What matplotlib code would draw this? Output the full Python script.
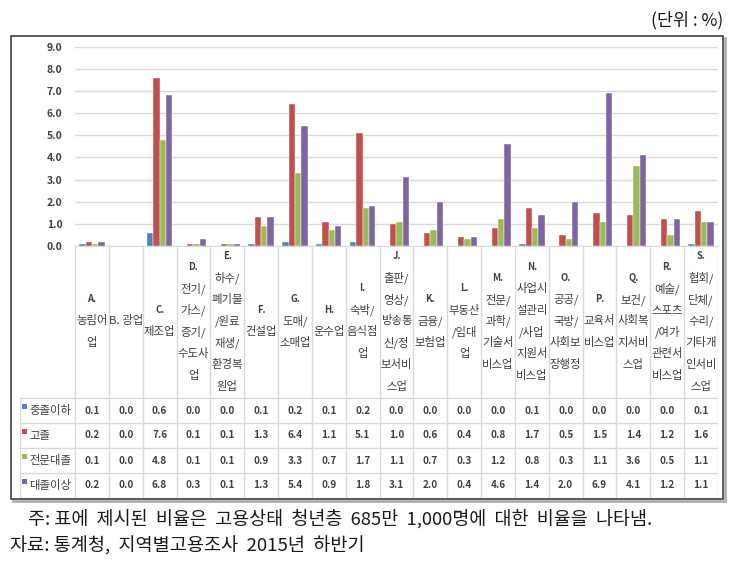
import numpy as np
import matplotlib
matplotlib.use('Agg')
import matplotlib.pyplot as plt
from matplotlib.patches import Rectangle
from matplotlib.lines import Line2D

plt.rcParams['font.family'] = ['Noto Sans CJK KR', 'DejaVu Sans']

# ---------------------------------------------------------------------
#  Dados
# ---------------------------------------------------------------------

categorias = [
    "A.\n농림어\n업", "B. 광업", "C.\n제조업", "D.\n전기/\n가스/\n증기/\n수도사\n업",
    "E.\n하수/\n폐기물\n/원료\n재생/\n환경복\n원업", "F.\n건설업", "G.\n도매/\n소매업",
    "H.\n운수업", "I.\n숙박/\n음식점\n업", "J.\n출판/\n영상/\n방송통\n신/정\n보서비\n스업",
    "K.\n금융/\n보험업", "L.\n부동산\n/임대\n업", "M.\n전문/\n과학/\n기술서\n비스업",
    "N.\n사업시\n설관리\n/사업\n지원서\n비스업", "O.\n공공/\n국방/\n사회보\n장행정",
    "P.\n교육서\n비스업", "Q.\n보건/\n사회복\n지서비\n스업", "R.\n예술/\n스포츠\n/여가\n관련서\n비스업",
    "S.\n협회/\n단체/\n수리/\n기타개\n인서비\n스업",
]

series_nomes = ['중졸이하', '고졸', '전문대졸', '대졸이상']
jungjol = [0.1, 0.0, 0.6, 0.0, 0.0, 0.1, 0.2, 0.1, 0.2, 0.0, 0.0, 0.0, 0.0, 0.1, 0.0, 0.0, 0.0, 0.0, 0.1]
gojol = [0.2, 0.0, 7.6, 0.1, 0.1, 1.3, 6.4, 1.1, 5.1, 1.0, 0.6, 0.4, 0.8, 1.7, 0.5, 1.5, 1.4, 1.2, 1.6]
jeonmun = [0.1, 0.0, 4.8, 0.1, 0.1, 0.9, 3.3, 0.7, 1.7, 1.1, 0.7, 0.3, 1.2, 0.8, 0.3, 1.1, 3.6, 0.5, 1.1]
daejol = [0.2, 0.0, 6.8, 0.3, 0.1, 1.3, 5.4, 0.9, 1.8, 3.1, 2.0, 0.4, 4.6, 1.4, 2.0, 6.9, 4.1, 1.2, 1.1]
series_valores = [jungjol, gojol, jeonmun, daejol]

cores = ['#4F81BD', '#C0504D', '#9BBB59', '#8064A2']
cor_texto = '#404040'
cor_grade = '#D9D9D9'

W, H = 738, 563


def fx(x):
    return x / W


def fy(y):
    return 1 - y / H


fig = plt.figure(figsize=(W / 100, H / 100), dpi=100)

# ---------------------------------------------------------------------
#  Moldura externa
# ---------------------------------------------------------------------
fig.add_artist(Line2D([fx(13), fx(725)], [fy(501), fy(501)], color='#B0B0B0', lw=2.0))
fig.add_artist(Line2D([fx(725), fx(725)], [fy(38), fy(501)], color='#B0B0B0', lw=2.0))
fig.add_artist(Rectangle((fx(11), fy(499)), fx(712), (499 - 36) / H,
                         fill=False, edgecolor='#404040', lw=1.2))

# ---------------------------------------------------------------------
#  Grafico de barras
# ---------------------------------------------------------------------
n = len(categorias)
ax = fig.add_axes([fx(75), fy(246), fx(643), (246 - 46.7) / H])
larg = 0.187
x = np.arange(n)
for k, (vals, cor) in enumerate(zip(series_valores, cores)):
    ax.bar(x + 0.5 + (k - 1.5) * larg, vals, width=larg, color=cor,
           edgecolor='white', linewidth=0.3, zorder=3)

ax.set_xlim(0, n)
ax.set_ylim(0, 9)
ax.set_yticks(np.arange(0, 10, 1))
ax.set_yticklabels([f'{v:.1f}' for v in np.arange(0, 10, 1)], fontsize=7.5,
                   color=cor_texto, fontweight='bold')
ax.tick_params(axis='y', length=0, pad=9)
ax.set_xticks([])
ax.grid(axis='y', color=cor_grade, lw=1.0, zorder=0)
for s in ['top', 'right', 'left']:
    ax.spines[s].set_visible(False)
ax.spines['bottom'].set_color(cor_grade)

# ---------------------------------------------------------------------
#  Tabela de dados
# ---------------------------------------------------------------------
leg_col = 55 / 33.84
tab = fig.add_axes([fx(20), fy(498), fx(698), 252 / H])
tab.set_xlim(-leg_col, n)
tab.set_ylim(252, 0)
tab.axis('off')

for i in range(n + 1):
    tab.plot([i, i], [0, 252], color=cor_grade, lw=1.0)
tab.plot([-leg_col, -leg_col], [152, 252], color=cor_grade, lw=1.0)
for yy in [152, 177, 202, 227, 252]:
    tab.plot([-leg_col, n], [yy, yy], color=cor_grade, lw=1.0)

# rotulos das categorias
for i, cat in enumerate(categorias):
    linhas = cat.split('\n')
    m = len(linhas)
    for j, lin in enumerate(linhas):
        yy = 75 + (j - (m - 1) / 2) * 21.7
        if lin.endswith('.') and len(lin) <= 2:
            tab.text(i + 0.5, yy, lin, ha='center', va='center', fontsize=6.8,
                     color=cor_texto, fontweight='bold')
        else:
            tab.text(i + 0.5, yy, lin, ha='center', va='center', fontsize=8.2,
                     color=cor_texto)

# linhas de valores
for k, (nome, vals, cor) in enumerate(zip(series_nomes, series_valores, cores)):
    yc = 152 + 12.5 + k * 25
    tab.add_patch(Rectangle((-leg_col + 0.06, yc - 7), 0.15, 5.5, color=cor, lw=0))
    tab.text(-leg_col + 0.28, yc, nome, ha='left', va='center', fontsize=8.2,
             color=cor_texto)
    for i, v in enumerate(vals):
        tab.text(i + 0.5, yc, f'{v:.1f}', ha='center', va='center', fontsize=7.2,
                 color=cor_texto, fontweight='bold')

# ---------------------------------------------------------------------
#  Textos
# ---------------------------------------------------------------------
fig.text(fx(723), fy(20), '(단위 : %)', ha='right', va='center', fontsize=12.5, color='#1a1a1a')
fig.text(fx(28), fy(519), '주: 표에  제시된  비율은  고용상태  청년층  685만  1,000명에  대한  비율을  나타냄.',
         ha='left', va='center', fontsize=13.3, color='#1a1a1a')
fig.text(fx(10), fy(546), '자료: 통계청,  지역별고용조사  2015년  하반기',
         ha='left', va='center', fontsize=13.4, color='#1a1a1a')

plt.savefig('out.png', dpi=100)
